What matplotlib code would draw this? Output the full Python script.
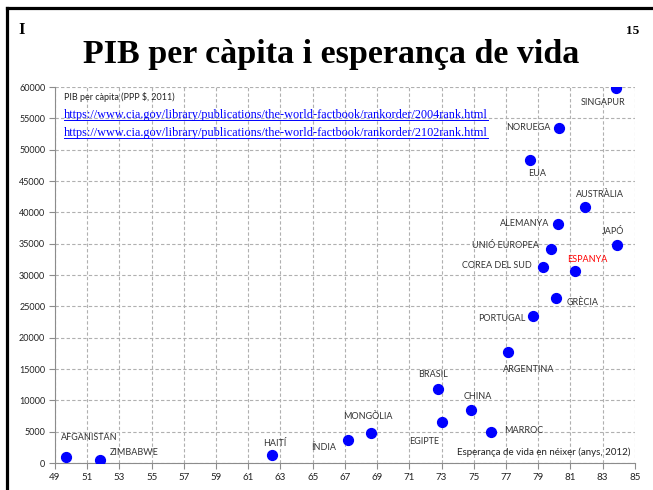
import matplotlib.pyplot as plt
from matplotlib.lines import Line2D

countries = ['SINGAPUR', 'NORUEGA', 'EUA', 'AUSTRÀLIA', 'ALEMANYA', 'JAPÓ', 'UNIÓ EUROPEA',
             'COREA DEL SUD', 'ESPANYA', 'GRÈCIA', 'PORTUGAL', 'ARGENTINA', 'BRASIL', 'CHINA',
             'EGIPTE', 'MARROC', 'MONGÒLIA', 'ÍNDIA', 'HAITÍ', 'AFGANISTAN', 'ZIMBABWE']
life_exp = [83.8, 80.3, 78.5, 81.9, 80.2, 83.9, 79.8, 79.3, 81.3, 80.1, 78.7, 77.1, 72.8, 74.8,
            73.0, 76.1, 68.6, 67.2, 62.5, 49.7, 51.8]
gdp = [59800, 53500, 48400, 40900, 38200, 34800, 34200, 31300, 30600, 26300, 23400, 17700, 11800,
       8400, 6500, 5000, 4800, 3700, 1200, 1000, 500]

urls = ['https://www.cia.gov/library/publications/the-world-factbook/rankorder/2004rank.html',
        'https://www.cia.gov/library/publications/the-world-factbook/rankorder/2102rank.html']

# label placement (offset in pixels, horizontal alignment)
label_pos = {
    'SINGAPUR': (-12, -14, 'center'), 'NORUEGA': (-9, 0, 'right'), 'EUA': (7, -14, 'center'),
    'AUSTRÀLIA': (15, 12, 'center'), 'ALEMANYA': (-8, 0, 'right'), 'JAPÓ': (-4, 14, 'center'),
    'UNIÓ EUROPEA': (-12, 3, 'right'), 'COREA DEL SUD': (-11, 1, 'right'),
    'ESPANYA': (12, 12, 'center'), 'GRÈCIA': (11, -4, 'left'), 'PORTUGAL': (-8, -2, 'right'),
    'ARGENTINA': (21, -17, 'center'), 'BRASIL': (-5, 15, 'center'), 'CHINA': (7, 14, 'center'),
    'EGIPTE': (-17, -19, 'center'), 'MARROC': (13, 1, 'left'), 'MONGÒLIA': (-3, 16, 'center'),
    'ÍNDIA': (-24, -8, 'center'), 'HAITÍ': (2, 12, 'center'), 'AFGANISTAN': (23, 19, 'center'),
    'ZIMBABWE': (34, 7, 'center'),
}

plt.rcParams['font.family'] = ['Lato', 'DejaVu Sans']

fig = plt.figure(figsize=(6.53, 4.9), dpi=100)
# slide frame: only top and left edges fall inside the picture
fig.add_artist(Line2D([6.5 / 653, 6.5 / 653], [0, 1 - 8.5 / 490], color='black', linewidth=2.3,
                      transform=fig.transFigure, solid_capstyle='projecting'))
fig.add_artist(Line2D([6.5 / 653, 1], [1 - 8.5 / 490, 1 - 8.5 / 490], color='black', linewidth=2.3,
                      transform=fig.transFigure, solid_capstyle='projecting'))

fig.text(331 / 653, 1 - 63 / 490, 'PIB per càpita i esperança de vida', ha='center', va='baseline',
         fontsize=24.5, fontweight='bold', family='Liberation Serif')
fig.text(22 / 653, 1 - 34 / 490, 'I', ha='center', va='baseline', fontsize=12, fontweight='bold',
         family='Liberation Serif')
fig.text(633 / 653, 1 - 34 / 490, '15', ha='center', va='baseline', fontsize=9.5,
         fontweight='bold', family='Liberation Serif')

ax = fig.add_axes([0.0842, 0.0551, 0.888, 0.767])
ax.scatter(life_exp, gdp, s=50, color='#0000ff', zorder=3)
ax.set_xlim(49, 85)
ax.set_ylim(0, 60000)
ax.set_xticks(range(49, 86, 2))
ax.set_yticks(range(0, 60001, 5000))
ax.grid(True, color='#b0b0b0', linestyle=(0, (3, 2)), linewidth=0.8)
ax.set_axisbelow(True)
for s in ['top', 'right']:
    ax.spines[s].set_visible(False)
for s in ['left', 'bottom']:
    ax.spines[s].set_color('#8c8c8c')
ax.tick_params(axis='x', labelsize=7, colors='#8c8c8c', labelcolor='#222222', length=4, pad=3)
ax.tick_params(axis='y', labelsize=6.5, colors='#8c8c8c', labelcolor='#222222', length=4, pad=3)

for name, x, y in zip(countries, life_exp, gdp):
    dx, dy, ha = label_pos[name]
    col = 'red' if name == 'ESPANYA' else '#333333'
    ax.annotate(name, (x, y), xytext=(dx, dy), textcoords='offset pixels', ha=ha, va='center',
                fontsize=6.5, color=col)

ax.text(0.016, 0.975, 'PIB per càpita (PPP $, 2011)', transform=ax.transAxes, ha='left',
        va='center', fontsize=6.5, color='#222222')
url_texts = []
for i, u in enumerate(urls):
    t = ax.text(0.016, 0.925 - i * 0.048, u, transform=ax.transAxes, ha='left', va='center',
                fontsize=8.8, color='#0000ff', family='Liberation Serif')
    url_texts.append(t)
ax.text(0.992, 0.028, 'Esperança de vida en néixer (anys, 2012)', transform=ax.transAxes,
        ha='right', va='center', fontsize=7, color='#222222')

fig.canvas.draw()
inv = fig.transFigure.inverted()
for t in url_texts:
    bb = t.get_window_extent()
    (x0, y0), (x1, _) = inv.transform([(bb.x0, bb.y0 + 1.5), (bb.x1, bb.y0 + 1.5)])
    fig.add_artist(Line2D([x0, x1], [y0, y0], color='#0000ff', linewidth=0.7,
                          transform=fig.transFigure))

fig.savefig('out.png', dpi=100)
